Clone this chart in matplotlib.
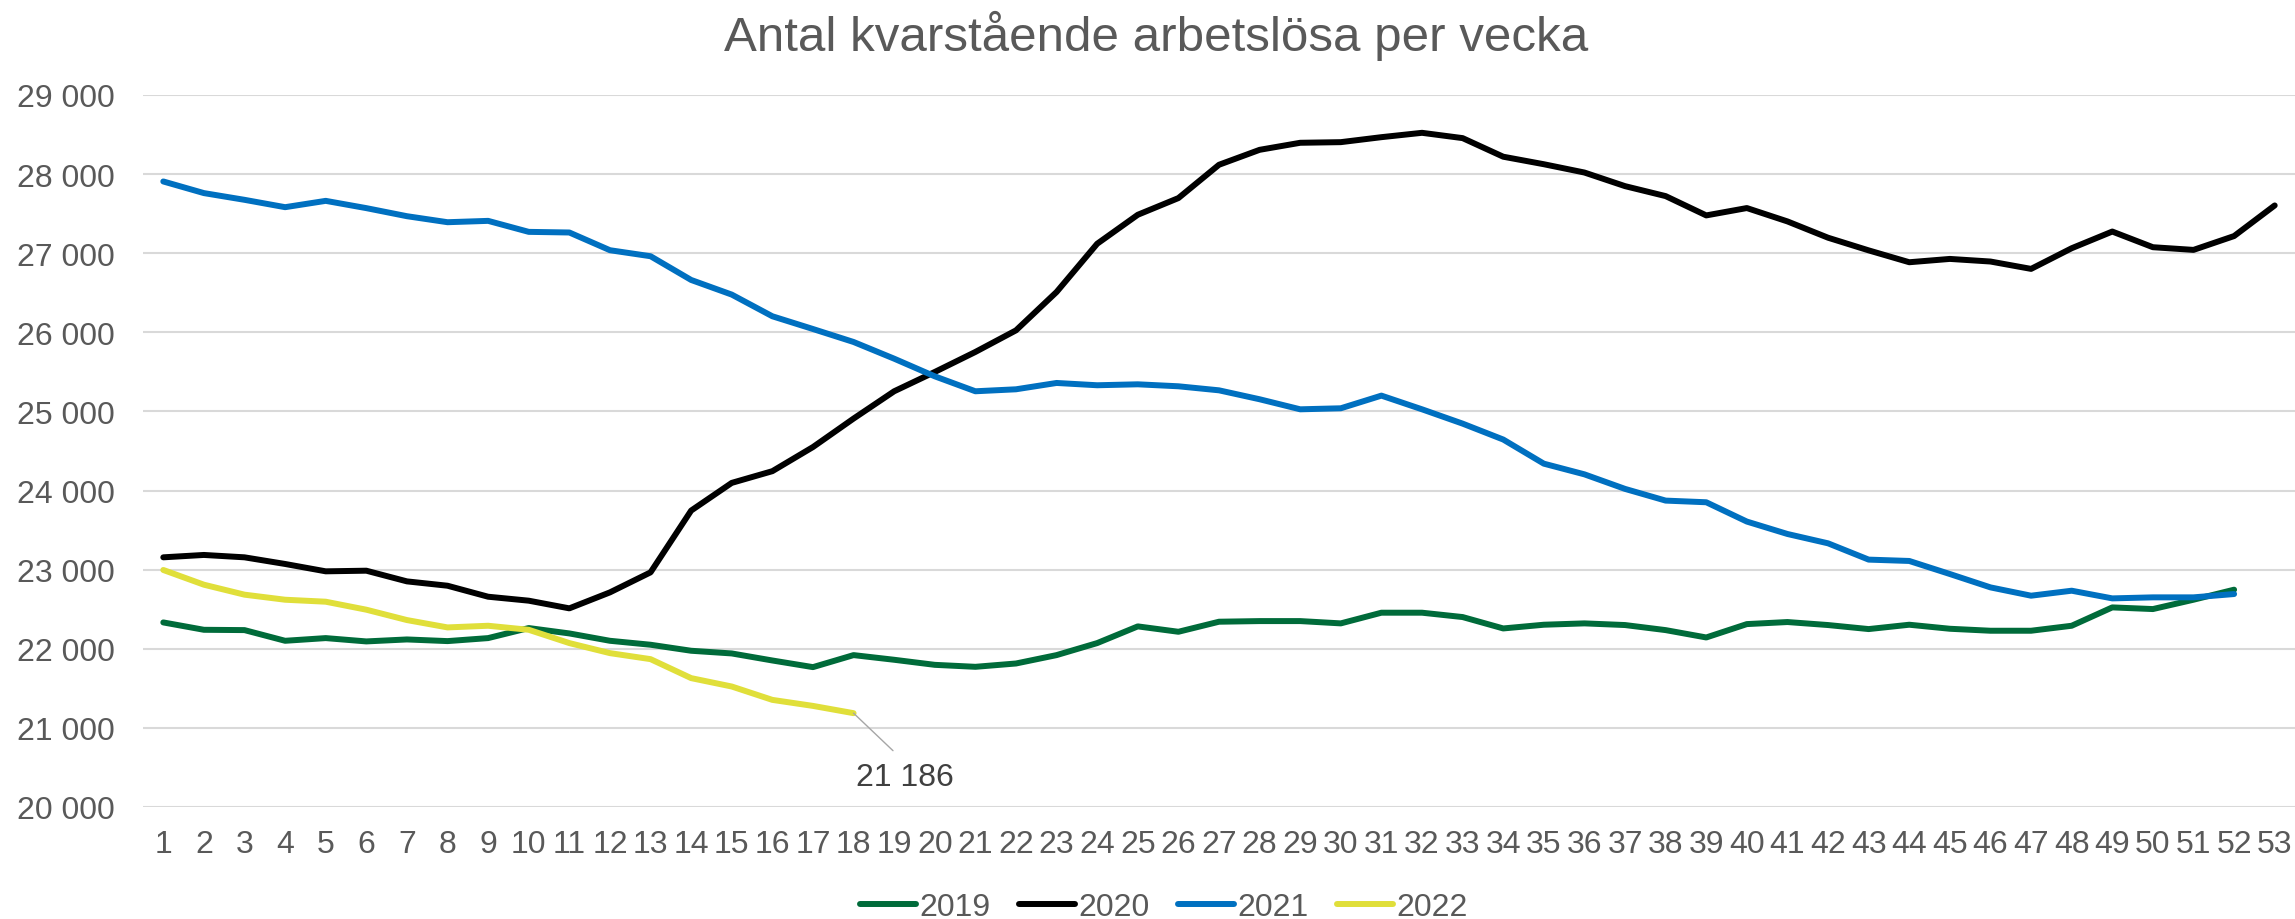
import matplotlib
matplotlib.use("Agg")
import matplotlib.pyplot as plt
from matplotlib.ticker import FuncFormatter, MultipleLocator

# veckonummer och antal kvarstående arbetslösa per år
weeks = list(range(1, 54))

y2019 = [22333, 22240, 22236, 22101, 22135, 22093, 22118, 22097, 22135, 22262,
         22194, 22101, 22051, 21975, 21941, 21852, 21768, 21920, 21861, 21797,
         21772, 21814, 21920, 22072, 22283, 22215, 22342, 22350, 22350, 22321,
         22456, 22456, 22401, 22257, 22304, 22321, 22300, 22236, 22143, 22312,
         22338, 22300, 22249, 22304, 22253, 22228, 22228, 22291, 22523, 22502,
         22620, 22747]

y2020 = [23156, 23186, 23156, 23072, 22979, 22987, 22852, 22797, 22658, 22608,
         22511, 22713, 22966, 23747, 24097, 24245, 24550, 24910, 25255, 25499,
         25752, 26025, 26510, 27120, 27486, 27697, 28118, 28307, 28396, 28404,
         28467, 28522, 28455, 28220, 28125, 28020, 27848, 27722, 27478, 27571,
         27402, 27196, 27036, 26886, 26928, 26895, 26802, 27063, 27274, 27076,
         27042, 27217, 27604]

y2021 = [27907, 27760, 27675, 27582, 27662, 27570, 27468, 27392, 27409, 27270,
         27262, 27038, 26962, 26662, 26477, 26203, 26042, 25878, 25667, 25444,
         25255, 25280, 25360, 25331, 25343, 25318, 25267, 25154, 25027, 25040,
         25200, 25027, 24846, 24645, 24340, 24205, 24021, 23873, 23852, 23608,
         23451, 23333, 23127, 23110, 22945, 22776, 22671, 22734, 22637, 22650,
         22650, 22692]

y2022 = [22996, 22810, 22684, 22620, 22595, 22494, 22363, 22270, 22291, 22240,
         22072, 21945, 21869, 21629, 21523, 21354, 21278, 21186]

series = [("2019", y2019, "#006B3A"),
          ("2020", y2020, "#000000"),
          ("2021", y2021, "#0070C0"),
          ("2022", y2022, "#E0DF3A")]

plt.rcParams['font.family'] = ['Liberation Sans', 'DejaVu Sans']
text_color = "#595959"

fig = plt.figure(figsize=(22.95, 9.2), dpi=100)
ax = fig.add_axes([143 / 2295, 112 / 920, 2152 / 2295, 712 / 920])

for name, vals, color in series:
    ax.plot(weeks[:len(vals)], vals, color=color, lw=4.3, label=name,
            solid_joinstyle='round', solid_capstyle='round')

# etikett för sista värdet 2022
last = len(y2022)
ax.annotate(f"{y2022[-1]:,}".replace(",", " "), xy=(last, y2022[-1]),
            xytext=(37, -46), textcoords='offset points',
            ha='center', va='center', fontsize=23, color="#404040",
            arrowprops=dict(arrowstyle='-', color='#a6a6a6', lw=1,
                            shrinkA=9, shrinkB=0, relpos=(0.5, 1)))

ax.set_xlim(0.5, 53.5)
ax.set_ylim(20000, 29000)
ax.set_xticks(weeks)
ax.yaxis.set_major_locator(MultipleLocator(1000))
ax.yaxis.set_major_formatter(FuncFormatter(lambda v, p: f"{int(v):,}".replace(",", " ")))
ax.tick_params(axis='both', length=0, labelsize=23, labelcolor=text_color)
ax.tick_params(axis='y', pad=20)
ax.tick_params(axis='x', pad=16)
ax.grid(axis='y', color='#d9d9d9', lw=1.5)
ax.set_axisbelow(True)
for s in ax.spines.values():
    s.set_visible(False)

fig.text(1156 / 2295, 1 - 51 / 920, "Antal kvarstående arbetslösa per vecka",
         ha='center', va='baseline', fontsize=35.5, color=text_color)

fig.legend(loc='center', bbox_to_anchor=(1164 / 2295, 1 - 908 / 920), ncol=4,
           frameon=False, fontsize=23, labelcolor=text_color,
           handlelength=1.75, handletextpad=0.1, columnspacing=0.9)

fig.savefig("out.png", dpi=100)
